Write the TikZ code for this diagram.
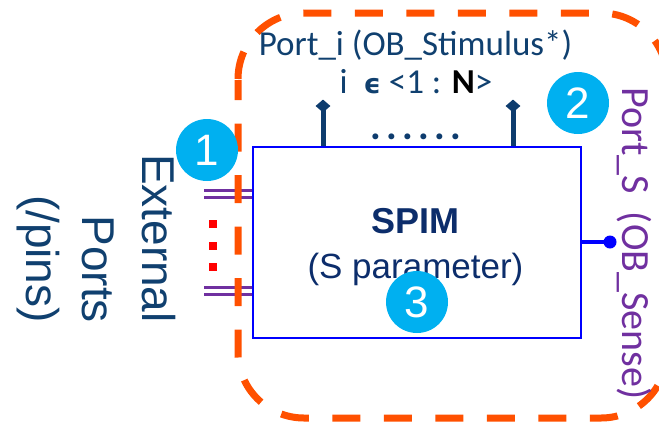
\documentclass[tikz,border=0pt]{standalone}
\usepackage{fontspec}
\setmainfont{Liberation Sans}
\newfontfamily\calib{Carlito}
\newfontfamily\dejavu{DejaVu Sans}
\usetikzlibrary{shapes.geometric}
\definecolor{dashorange}{HTML}{FF5000}
\definecolor{boxblue}{HTML}{0000FF}
\definecolor{navytext}{HTML}{0C2D6B}
\definecolor{portblue}{HTML}{10406F}
\definecolor{pinnavy}{HTML}{0E3C6E}
\definecolor{portpurple}{HTML}{7030A0}
\definecolor{badgecyan}{HTML}{00B0F0}
\newcommand{\dotgap}{\hspace{5.3pt}}
\tikzset{
  badge/.style={circle, fill=badgecyan, minimum size=62pt, inner sep=0pt,
    text=white, font=\fontsize{44}{44}\selectfont},
  vlabel/.style={rotate=-90, inner sep=0pt, text=portblue,
    font=\fontsize{46}{50}\selectfont},
  purpleline/.style={portpurple, line width=3pt},
  redsq/.style={fill=red, minimum size=8pt, inner sep=0pt, rectangle},
  pinhead/.style={diamond, fill=pinnavy, minimum width=15pt, minimum height=13pt, inner sep=0pt},
  pinline/.style={pinnavy, line width=5pt},
  regiondash/.style={dashorange, line width=7pt, rounded corners=66pt},
}
\begin{document}
\begin{tikzpicture}[x=1pt,y=-1pt]
\useasboundingbox (0,0) rectangle (659,424);
\clip (0,0) rectangle (659,424);
% SPIM box
\node[draw=boxblue, line width=1.6pt, minimum width=328pt, minimum height=191pt, inner sep=0pt, anchor=north west] (spim) at (252,146) {};
\node[anchor=base, inner sep=0pt, text=navytext, font=\fontsize{36}{36}\selectfont\bfseries] (spimt) at (415.5,233) {SPIM};
\node[anchor=base, inner sep=0pt, text=navytext, font=\fontsize{35}{35}\selectfont] (spimp) at (415.5,278) {(S parameter)};
% left double lines
\coordinate (l1a) at (204,190);   \coordinate (l1b) at (252,190);
\coordinate (l2a) at (204,197.5); \coordinate (l2b) at (252,197.5);
\coordinate (l3a) at (204,287);   \coordinate (l3b) at (252,287);
\coordinate (l4a) at (204,294.5); \coordinate (l4b) at (252,294.5);
\draw[purpleline] (l1a) -- (l1b);
\draw[purpleline] (l2a) -- (l2b);
\draw[purpleline] (l3a) -- (l3b);
\draw[purpleline] (l4a) -- (l4b);
% dashed region (two runs of one dashed rounded outline)
\draw[regiondash, dash pattern=on 28pt off 23.5pt, dash phase=8pt]
  (238,80) -- (238,418) -- (667,418) -- (667,79);
\draw[regiondash, dash pattern=on 28pt off 23.5pt]
  (238,79) -- (238,13) -- (667,13) -- (667,80);
% red dots
\node[redsq] (r1) at (212.7,224) {};
\node[redsq] (r2) at (212.7,245.5) {};
\node[redsq] (r3) at (212.7,267) {};
% top pins
\node[pinhead] (d1) at (323,106) {};
\node[pinhead] (d2) at (513,106) {};
\coordinate (p1) at (323,146);
\coordinate (p2) at (513,146);
\draw[pinline] (p1) -- (d1.center);
\draw[pinline] (p2) -- (d2.center);
\node[anchor=base, inner sep=0pt, text=pinnavy, font=\calib\fontsize{40}{40}\selectfont\bfseries] (dots) at (416,139) {.\dotgap.\dotgap.\dotgap.\dotgap.\dotgap.};
% right pin
\coordinate (rp) at (580,242);
\node[circle, fill=boxblue, minimum size=13pt, inner sep=0pt] (rend) at (610,242) {};
\draw[boxblue, line width=4.5pt] (rp) -- (rend.center);
% texts
\node[anchor=base, inner sep=0pt, text=portblue, font=\calib\fontsize{35}{35}\selectfont] (porti) at (415.5,55) {Port\_i (OB\_Stimulus*)};
\node[anchor=base, inner sep=0pt, text=portblue, font=\calib\fontsize{35}{35}\selectfont] (range) at (416,93) {i~~{\dejavu\bfseries\fontsize{27}{27}\selectfont ϵ} <1 : \textcolor{black}{\textbf{N}}>};
\node[rotate=-90, anchor=base west, inner sep=0pt, text=portpurple, font=\calib\fontsize{40}{40}\selectfont] (ports) at (622,87) {Port\_S~~(OB\_Sense)};
\node[vlabel, anchor=base east] (ext) at (142,323) {External};
\node[vlabel, anchor=base east] (prt) at (82,323) {Ports};
\node[vlabel, anchor=base east] (pins) at (27,323) {(/pins)};
% badges
\node[badge] (b1) at (207,150) {1};
\node[badge] (b2) at (578,103) {2};
\node[badge] (b3) at (417,302) {3};
\end{tikzpicture}
\end{document}
